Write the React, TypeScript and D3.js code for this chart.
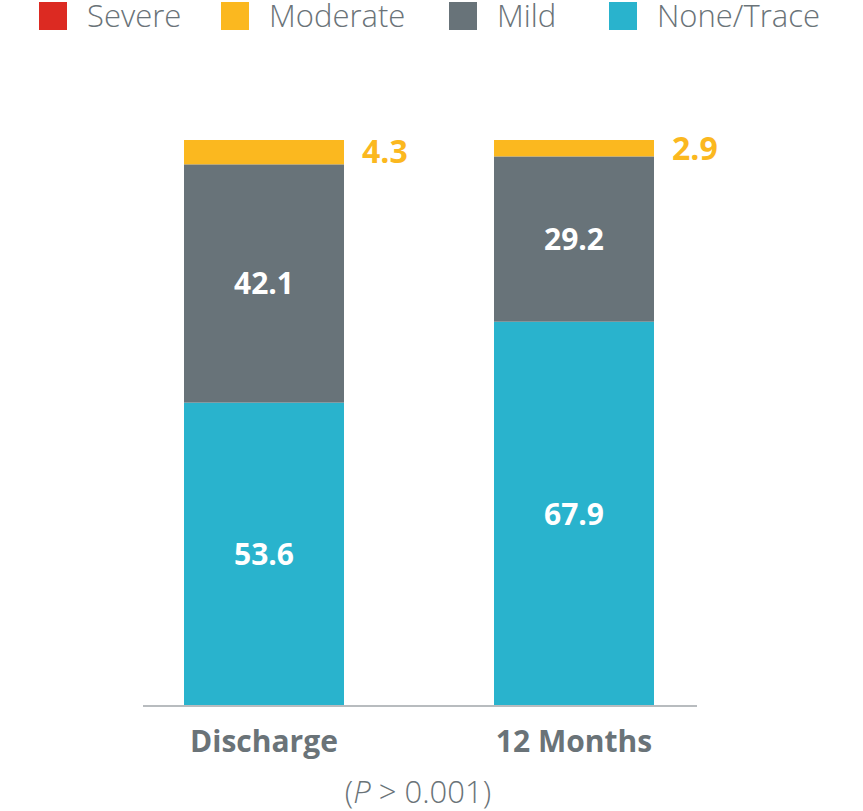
import React from "react";
import * as d3 from "d3";

const categories = ["Discharge", "12 Months"];
const seriesNames = ["None/Trace", "Mild", "Moderate", "Severe"];
const noneTrace = [53.6, 67.9];
const mild = [42.1, 29.2];
const moderate = [4.3, 2.9];
const severe = [0, 0];
const legendOrder = ["Severe", "Moderate", "Mild", "None/Trace"];
const pLabel = "0.001";

const colors: Record<string, string> = {
  Severe: "#dc2a22",
  Moderate: "#fbb81f",
  Mild: "#687379",
  "None/Trace": "#29b3cd",
};

const W = 863;
const H = 811;
const textGray = "#6a7378";
const font = "'Open Sans', 'Noto Sans', sans-serif";

export default function App() {
  const valuesBy: Record<string, number[]> = {
    "None/Trace": noneTrace,
    Mild: mild,
    Moderate: moderate,
    Severe: severe,
  };
  const rows = categories.map((c, i) => {
    const r: any = { category: c };
    seriesNames.forEach((s) => (r[s] = valuesBy[s][i]));
    return r;
  });
  const stacked = d3.stack<any>().keys(seriesNames)(rows);

  const x = d3
    .scaleBand<string>()
    .domain(categories)
    .range([109, 729])
    .paddingInner(150 / 310)
    .paddingOuter(75 / 310);
  const y = d3.scaleLinear().domain([0, 100]).range([706, 140]);

  const legendX = [39, 221, 449, 609];

  return (
    <div style={{ position: "absolute", left: 0, top: 0 }}>
      <svg width={W} height={H} style={{ display: "block", background: "#fff" }}>
        {/* legend */}
        {legendOrder.map((name, i) => (
          <g key={name} transform={`translate(${legendX[i]},2)`}>
            <rect width={28} height={28} fill={colors[name]} />
            <text
              x={48}
              y={25}
              fontFamily={font}
              fontWeight={300}
              fontSize={31}
              fill={textGray}
            >
              {name}
            </text>
          </g>
        ))}

        {/* bars */}
        {stacked.map((layer) => (
          <g key={layer.key} fill={colors[layer.key]}>
            {layer.map((d, i) =>
              d[1] - d[0] > 0 ? (
                <rect
                  key={i}
                  x={x(categories[i])}
                  width={x.bandwidth()}
                  y={y(d[1])}
                  height={y(d[0]) - y(d[1])}
                />
              ) : null
            )}
          </g>
        ))}

        {/* value labels */}
        {stacked.map((layer) =>
          layer.map((d, i) => {
            const v = d[1] - d[0];
            if (v <= 0) return null;
            const cx = (x(categories[i]) as number) + x.bandwidth() / 2;
            const cy = (y(d[0]) + y(d[1])) / 2;
            if (layer.key === "Moderate") {
              return (
                <text
                  key={layer.key + i}
                  x={(x(categories[i]) as number) + x.bandwidth() + 18}
                  y={Math.min(cy, 151)}
                  dy="0.36em"
                  fontFamily={font}
                  fontWeight={700}
                  fontSize={32}
                  fill={colors.Moderate}
                >
                  {v.toFixed(1)}
                </text>
              );
            }
            return (
              <text
                key={layer.key + i}
                x={cx}
                y={cy}
                dy="0.36em"
                textAnchor="middle"
                fontFamily={font}
                fontWeight={700}
                fontSize={30}
                fill="#ffffff"
              >
                {v.toFixed(1)}
              </text>
            );
          })
        )}

        {/* axis line */}
        <line x1={143} x2={697} y1={y(0)} y2={y(0)} stroke="#b8bcbf" strokeWidth={2} />

        {/* category labels */}
        {categories.map((c) => (
          <text
            key={c}
            x={(x(c) as number) + x.bandwidth() / 2}
            y={752}
            textAnchor="middle"
            fontFamily={font}
            fontWeight={700}
            fontSize={30}
            fill={textGray}
          >
            {c}
          </text>
        ))}

        {/* p value */}
        <text
          x={418}
          y={803}
          textAnchor="middle"
          fontFamily={font}
          fontWeight={300}
          fontSize={31}
          fill={textGray}
        >
          (<tspan fontStyle="italic">P</tspan> &gt; {pLabel})
        </text>
      </svg>
    </div>
  );
}
